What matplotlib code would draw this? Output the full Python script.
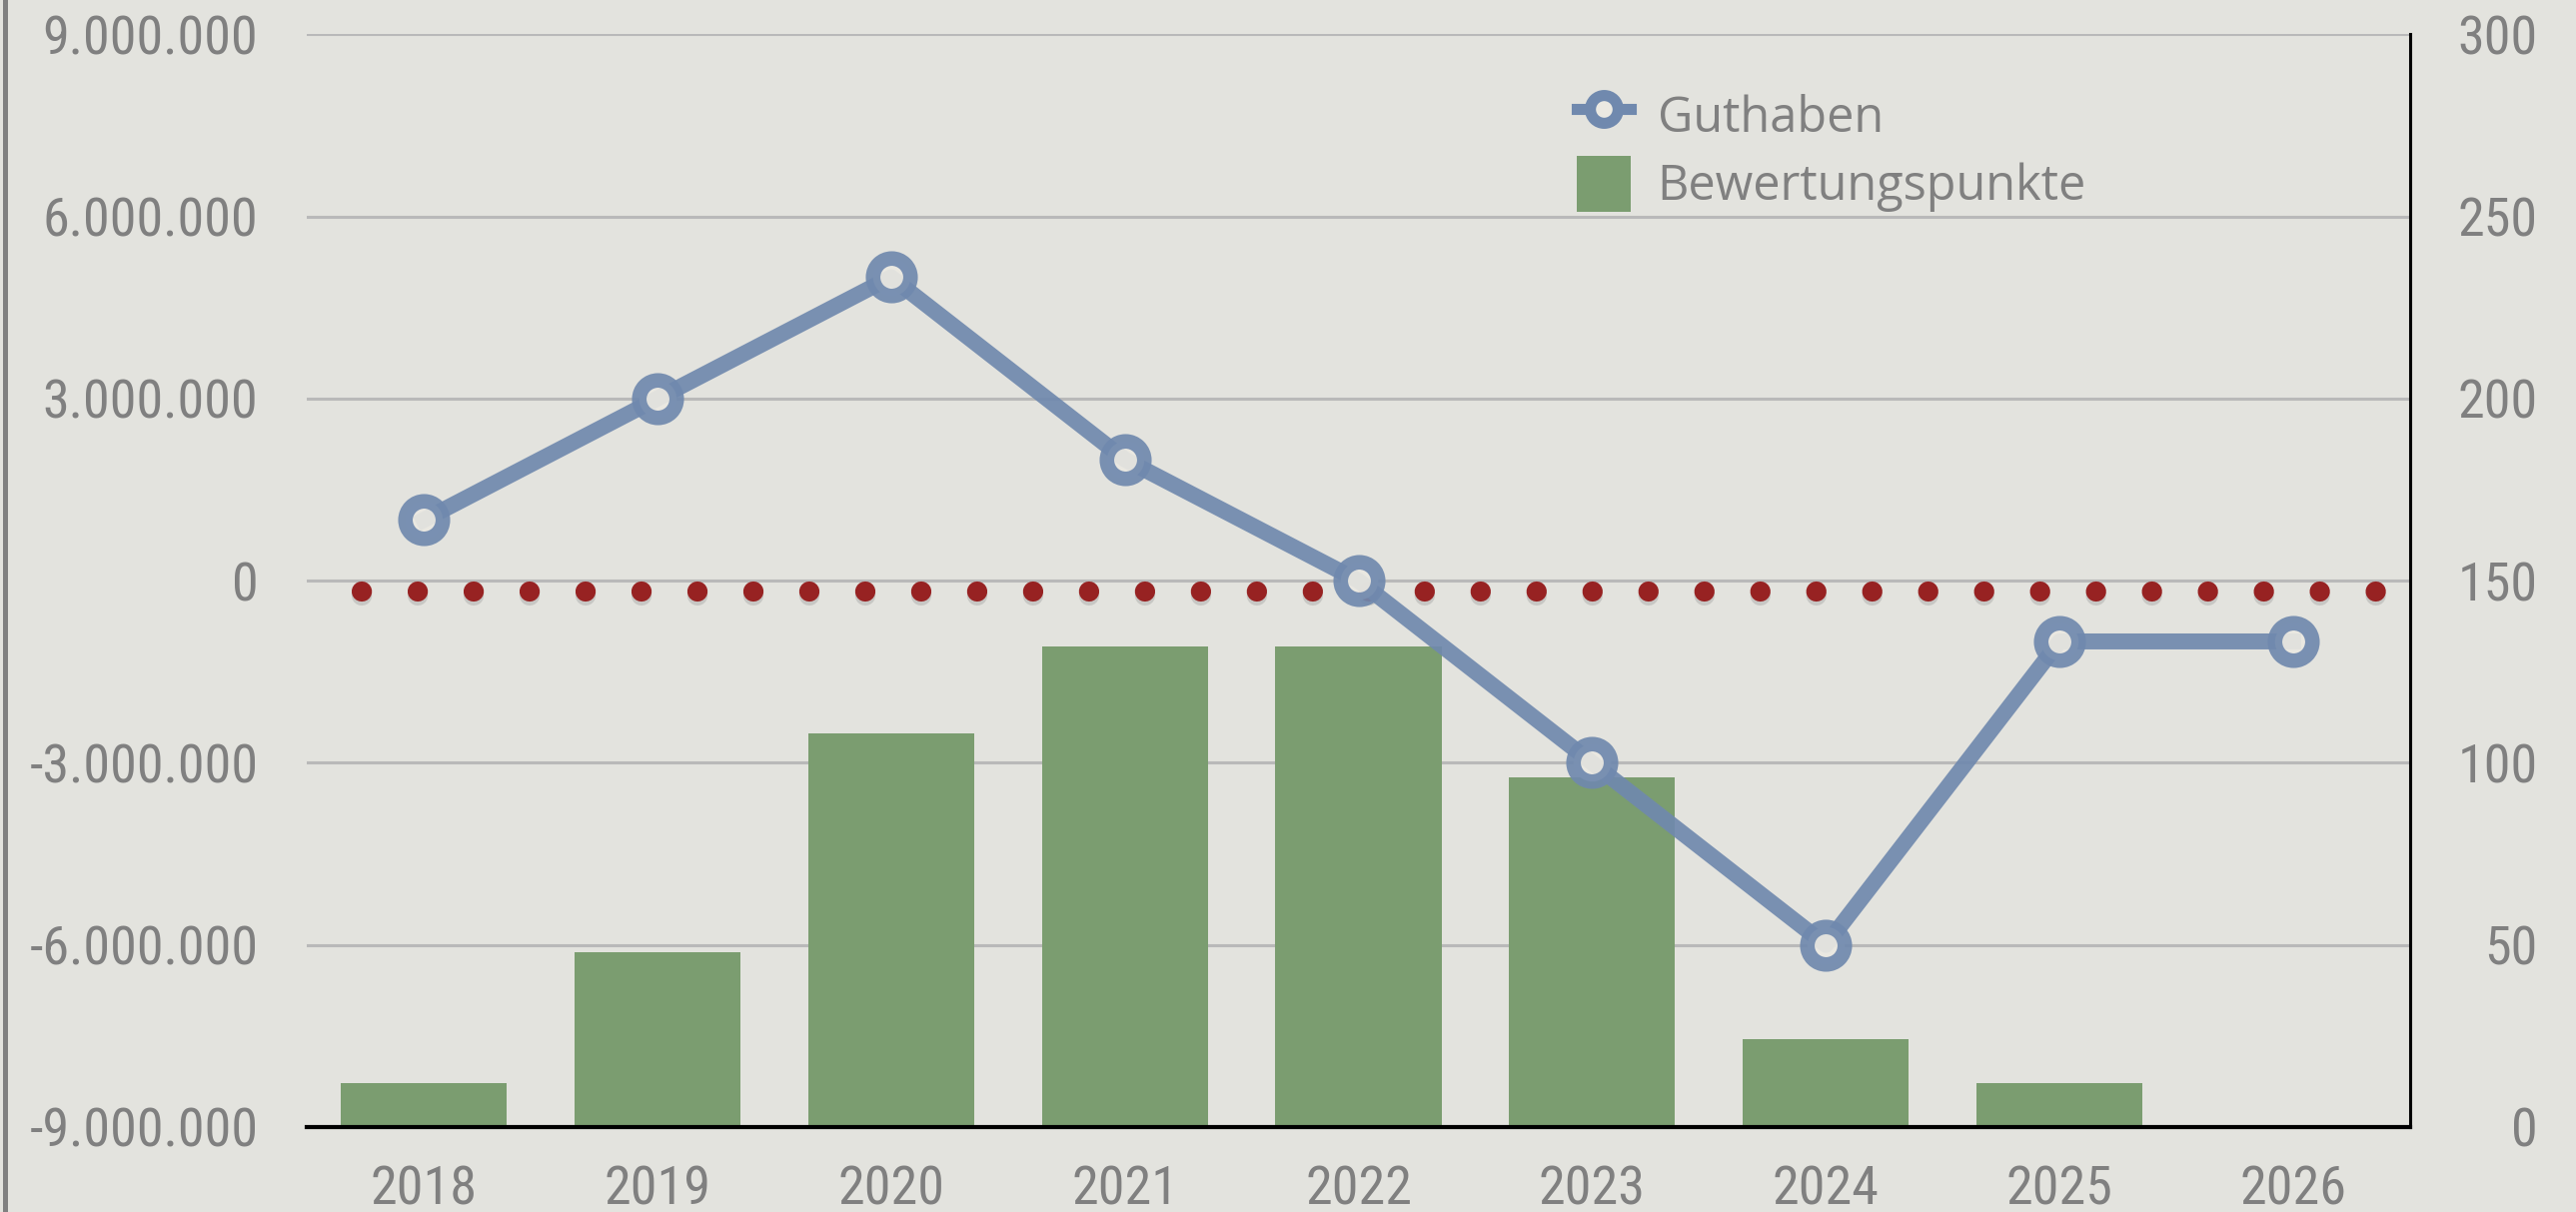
import numpy as np
import matplotlib
matplotlib.use("Agg")
import matplotlib.pyplot as plt
import matplotlib.patheffects as pe
from matplotlib import font_manager
from matplotlib.lines import Line2D
from matplotlib.patches import Patch

# data
jahre = ["2018", "2019", "2020", "2021", "2022", "2023", "2024", "2025", "2026"]
guthaben = [1_000_000, 3_000_000, 5_000_000, 2_000_000, 0,
            -3_000_000, -6_000_000, -1_000_000, -1_000_000]
bewertungspunkte = [12, 48, 108, 132, 132, 96, 24, 12, 0]
nulllinie = -180_000
links_ticks = [-9_000_000, -6_000_000, -3_000_000, 0, 3_000_000, 6_000_000, 9_000_000]
rechts_ticks = [0, 50, 100, 150, 200, 250, 300]


def pick(names):
    for n in names:
        try:
            font_manager.findfont(n, fallback_to_default=False)
            return n
        except Exception:
            pass
    return "DejaVu Sans"


tick_font = pick(["Roboto Condensed", "Liberation Sans Narrow", "Roboto", "Lato"])
leg_font = pick(["Open Sans", "Lato", "Noto Sans"])

bg = "#e3e3de"
grau = "#808080"
blau = "#7089ae"
gruen = "#7b9d70"
rot = "#972222"

fig = plt.figure(figsize=(25.78, 12.13), dpi=100, facecolor=bg)
ax = fig.add_axes([0.1191, 0.0701, 0.8165, 0.9015])
ax.set_facecolor(bg)

x = np.arange(len(jahre))
ax.bar(x, bewertungspunkte, width=0.71, color=gruen, zorder=2)
ax.set_ylim(0, 300)
ax.set_xlim(-0.5, len(jahre) - 0.5)
ax.yaxis.grid(True, color="#b9b9b9", linewidth=2.2, zorder=0)
ax.set_axisbelow(True)

ax2 = ax.twinx()
ax2.plot([-0.265, 8.367], [nulllinie, nulllinie], color=rot, linewidth=14.5,
         linestyle=(0, (0.01, 2.77)), dash_capstyle="round", zorder=3,
         path_effects=[pe.SimpleLineShadow(offset=(0, -3), shadow_color="#777777", alpha=0.25),
                       pe.Normal()])
ax2.plot(x, guthaben, color=blau, linewidth=11.5, alpha=0.92, marker="o",
         markersize=27, markeredgewidth=10.5, markerfacecolor="#ebe9e2",
         markeredgecolor=blau, zorder=4)
ax2.set_ylim(-9_000_000, 9_000_000)

# axis placement: bars on right scale, line on left scale
ax.yaxis.tick_right()
ax2.yaxis.tick_left()

fmt = lambda v: f"{v:,.0f}".replace(",", ".")
ax2.set_yticks(links_ticks, [fmt(v) for v in links_ticks], fontsize=39,
               color=grau, family=tick_font, ha="right")
ax2.tick_params(axis="y", length=0, pad=35)
ax.set_yticks(rechts_ticks, [str(v) for v in rechts_ticks], fontsize=39,
              color=grau, family=tick_font, ha="right")
ax.tick_params(axis="y", length=0, pad=92)
ax.set_xticks(x, jahre, fontsize=39, color=grau, family=tick_font)
ax.tick_params(axis="x", length=0, pad=27)

for s in ["left", "top"]:
    ax.spines[s].set_visible(False)
for s in ax2.spines.values():
    s.set_visible(False)
ax.spines["right"].set_color("black")
ax.spines["right"].set_linewidth(2.2)
ax.spines["bottom"].set_color("black")
ax.spines["bottom"].set_linewidth(3)

handles = [
    Line2D([0], [0], color=blau, linewidth=8, marker="o", markersize=20,
           markeredgewidth=8, markerfacecolor="#ebe9e2", markeredgecolor=blau),
    Patch(facecolor=gruen),
]
leg = ax2.legend(handles, ["Guthaben", "Bewertungspunkte"], loc="upper left",
                 bbox_to_anchor=(1554 / 2578, 1 - 63 / 1213), bbox_transform=fig.transFigure,
                 frameon=False, borderpad=0, handlelength=1.1, handleheight=1.4,
                 handletextpad=0.55, labelspacing=0.25,
                 prop={"family": leg_font, "size": 35})
for t in leg.get_texts():
    t.set_color(grau)

# thin grey border on the left edge
fig.add_artist(Line2D([5 / 2578, 5 / 2578], [0, 1], color=grau, linewidth=3.6,
                      transform=fig.transFigure))

fig.savefig("out.png", dpi=100, facecolor=bg)
